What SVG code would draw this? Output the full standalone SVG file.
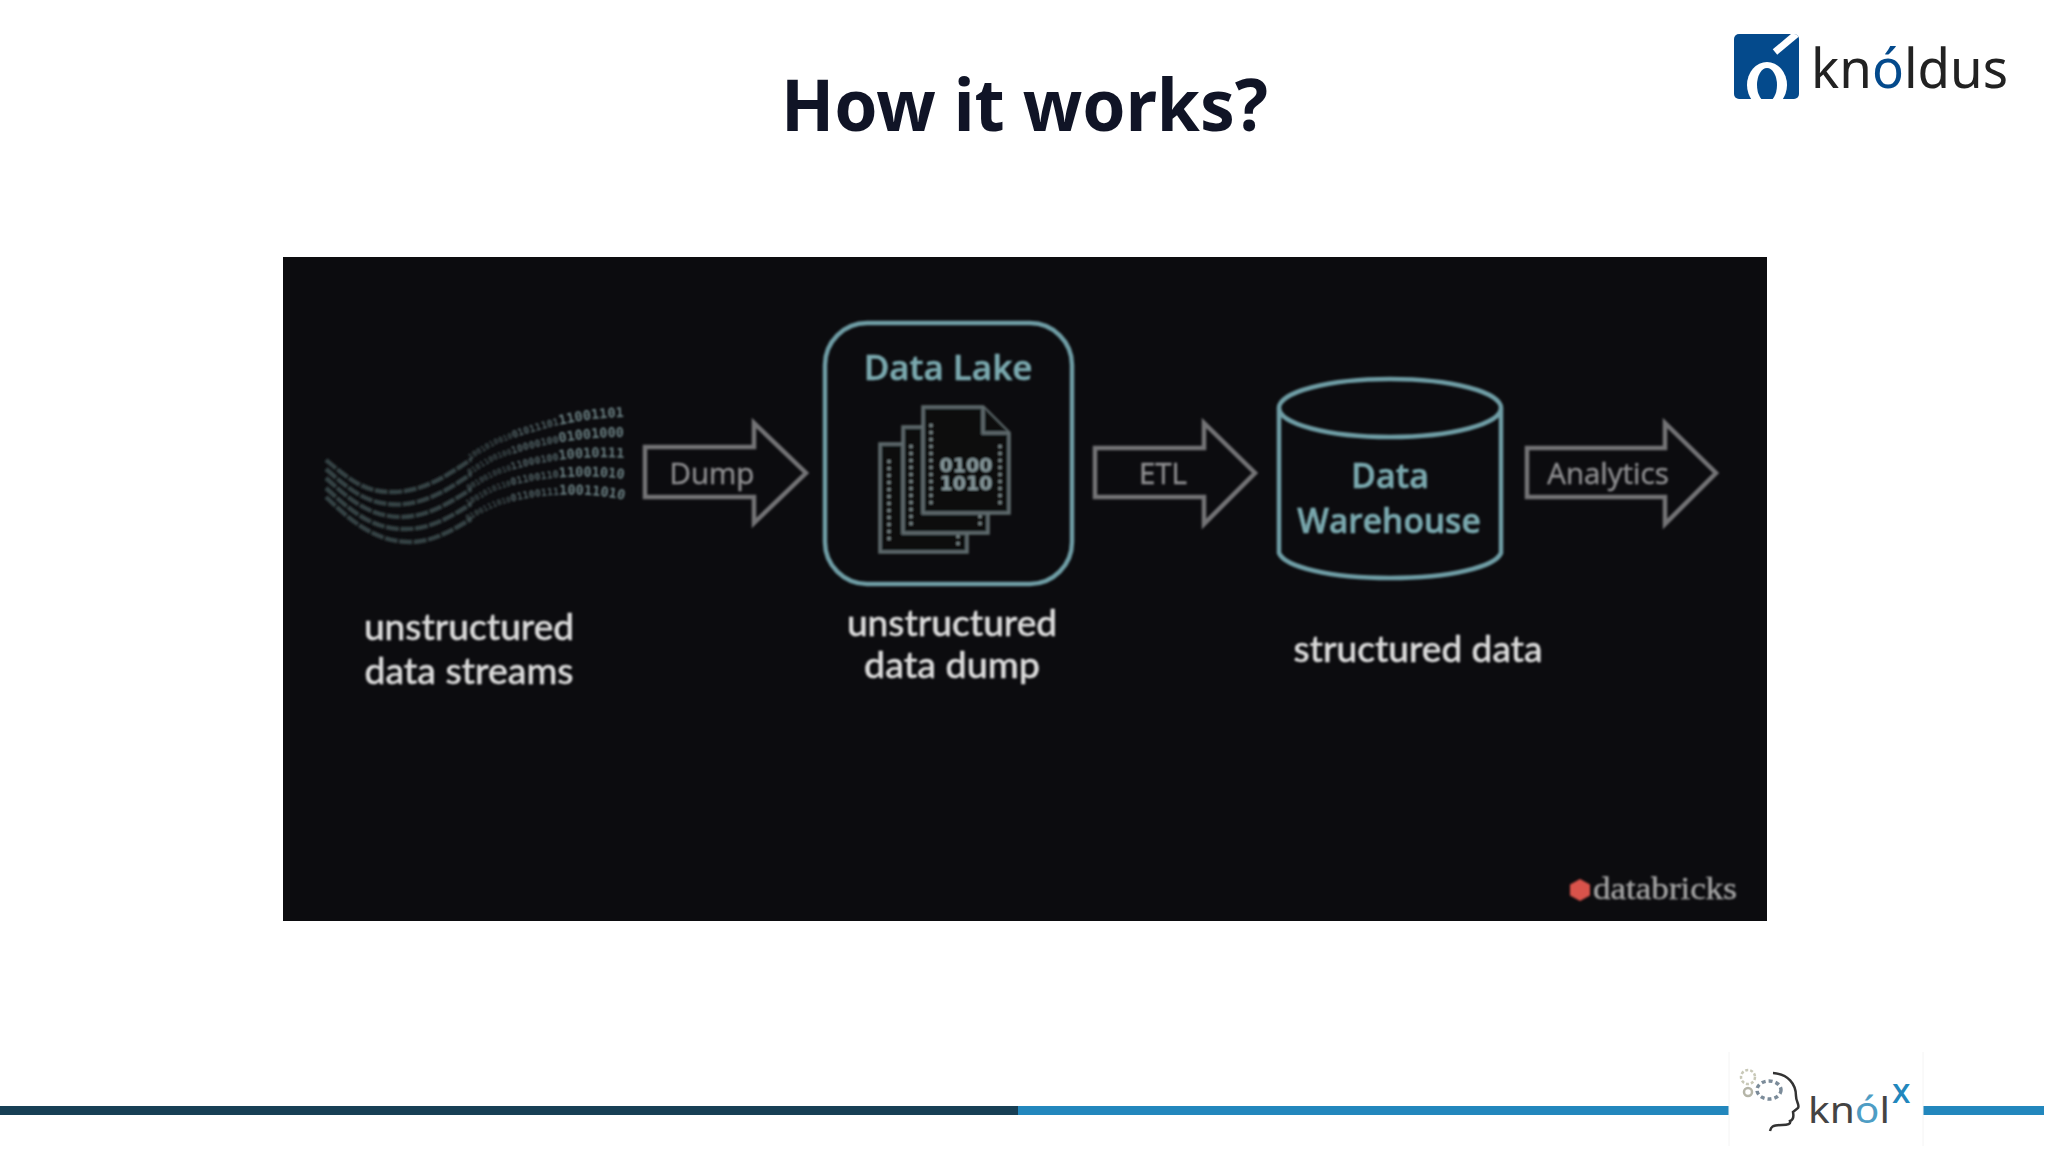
<svg xmlns="http://www.w3.org/2000/svg" xmlns:xlink="http://www.w3.org/1999/xlink" width="2048" height="1152" viewBox="0 0 2048 1152">
<style>
.cap{font-family:Lato,"Open Sans",sans-serif;font-size:37px;font-weight:500;fill:#dcdcdc;text-anchor:middle;stroke:#dcdcdc;stroke-width:.5px}
.arr{fill:none;stroke:#737376;stroke-width:4.5}
.alab{font-family:"Open Sans",sans-serif;font-size:29.500px;fill:#8e8e90;text-anchor:middle;stroke:#8e8e90;stroke-width:.5px}
.teal{fill:none;stroke:#6f9ea6;stroke-width:4.5}
.ttl{font-family:"Open Sans",sans-serif;font-weight:600;fill:#7aa9af;text-anchor:middle;stroke:#7aa9af;stroke-width:.6px}
.doc{fill:#0d0d10;stroke:#5f6b6d;stroke-width:3.5}
.dots{fill:none;stroke:#7d8a8c;stroke-width:3;stroke-dasharray:3 4}
.wave{fill:none;stroke:#364344;stroke-width:4.500;stroke-dasharray:13 1.500}
.bits{font-family:"DejaVu Sans Mono",monospace;font-weight:700;fill:#6b8083;text-anchor:end}
.t1{font-size:8px;fill:#414f51}
.t2{font-size:10px;fill:#536467}
.t3{font-size:13.500px}
</style>
<defs>
<filter id="soft" x="-5%" y="-5%" width="110%" height="110%"><feGaussianBlur stdDeviation="0.9"/></filter>
<clipPath id="leftPart"><rect x="320" y="440" width="152" height="120"/></clipPath>
<path id="w1" d="M326 460C350 480 365 493 395 492C440 490 470 455 500 443C540 428 580 418 624 417"/>
<path id="w2" d="M326 469C350 490 367 505 399 504.500C441 503 470 470 500 458C540 444 582 437 624 437"/>
<path id="w3" d="M326 478C350 500 370 517 402 517C442 516 470 485 500 474C540 460 585 455 624 458"/>
<path id="w4" d="M326 488C350 510 372 530 406 529C444 529 470 500 500 489C540 476 587 474 624 479"/>
<path id="w5" d="M326 497C350 520 375 542 410 542C445 542 470 515 500 505C540 492 590 492 624 500"/>
</defs>
<rect width="2048" height="1152" fill="#ffffff"/>
<text id="title" x="781" y="131" font-family="'Noto Sans','Open Sans',sans-serif" font-weight="700" font-size="72" fill="#101426" textLength="487" lengthAdjust="spacingAndGlyphs">How it works?</text>

<g id="logo-knoldus">
<rect x="1734" y="34" width="65" height="65" rx="5" fill="#044a8c"/>
<clipPath id="lc"><rect x="1734" y="34" width="65" height="65" rx="5"/></clipPath>
<g clip-path="url(#lc)">
<ellipse cx="1767" cy="85" rx="20" ry="23" fill="#ffffff"/>
<ellipse cx="1767" cy="85" rx="10" ry="17" fill="#044a8c"/>
<path d="M1775 52L1800 31" stroke="#ffffff" stroke-width="7" fill="none"/>
</g>
<text x="1811" y="88" font-family="'Noto Sans',sans-serif" font-size="55" fill="#222222" textLength="197" lengthAdjust="spacingAndGlyphs">kn<tspan fill="#044a8c">ó</tspan>ldus</text>
</g>

<rect id="panel" x="283" y="257" width="1484" height="664" fill="#0c0c0f"/>

<g filter="url(#soft)">
<g id="stream">
<g clip-path="url(#leftPart)">
<use xlink:href="#w1" class="wave"/>
<use xlink:href="#w2" class="wave"/>
<use xlink:href="#w3" class="wave"/>
<use xlink:href="#w4" class="wave"/>
<use xlink:href="#w5" class="wave"/>
</g>
<text class="bits"><textPath xlink:href="#w1" startOffset="100%"><tspan class="t1">1001010010</tspan><tspan class="t2">01011101</tspan><tspan class="t3">11001101</tspan></textPath></text>
<text class="bits"><textPath xlink:href="#w2" startOffset="100%"><tspan class="t1">0101100100</tspan><tspan class="t2">10000100</tspan><tspan class="t3">01001000</tspan></textPath></text>
<text class="bits"><textPath xlink:href="#w3" startOffset="100%"><tspan class="t1">0010010010</tspan><tspan class="t2">11000100</tspan><tspan class="t3">10010111</tspan></textPath></text>
<text class="bits"><textPath xlink:href="#w4" startOffset="100%"><tspan class="t1">1001010110</tspan><tspan class="t2">01100110</tspan><tspan class="t3">11001010</tspan></textPath></text>
<text class="bits"><textPath xlink:href="#w5" startOffset="100%"><tspan class="t1">0100111010</tspan><tspan class="t2">01100111</tspan><tspan class="t3">10011010</tspan></textPath></text>
</g>

<g id="connectors">
<path class="arr" d="M645 447H754V423L806 473L754 523V497H645Z"/>
<path class="arr" d="M1095 448H1204V423L1255 473L1204 524V497H1095Z"/>
<path class="arr" d="M1527 448H1665V423L1716 473L1665 524V497H1527Z"/>
<text class="alab" x="712" y="484">Dump</text>
<text class="alab" x="1163" y="484">ETL</text>
<text class="alab" x="1608" y="484">Analytics</text>
</g>

<g id="data-lake">
<rect class="teal" x="825" y="323" width="247" height="261" rx="42"/>
<text class="ttl" x="948" y="380" font-size="35">Data Lake</text>
<path class="doc" d="M880 444H967V552H880Z"/>
<path class="dots" d="M889 460V544M958 535V546"/>
<path class="doc" d="M903 427H988V533H903Z"/>
<path class="dots" d="M911 445V526M980 515V528"/>
<path class="doc" d="M923 407H983L1009 433V513H923Z"/>
<path class="doc" d="M983 407V433H1009"/>
<path class="dots" d="M931 424V508M1000 445V508"/>
<text x="966" y="472" font-family="'DejaVu Sans',sans-serif" font-size="19" font-weight="700" fill="#86989b" text-anchor="middle">0100</text>
<text x="966" y="490" font-family="'DejaVu Sans',sans-serif" font-size="19" font-weight="700" fill="#86989b" text-anchor="middle">1010</text>
</g>

<g id="data-warehouse">
<ellipse class="teal" cx="1390" cy="408" rx="111" ry="29"/>
<path class="teal" d="M1279 408V553C1285 567 1330 578 1390 578S1495 567 1501 553V408"/>
<text class="ttl" x="1390" y="488" font-size="34">Data</text>
<text class="ttl" x="1389" y="533" font-size="33.500">Warehouse</text>
</g>

<g id="labels">
<text class="cap" x="469" y="640">unstructured</text>
<text class="cap" x="469" y="684" textLength="209" lengthAdjust="spacingAndGlyphs">data streams</text>
<text class="cap" x="952" y="636">unstructured</text>
<text class="cap" x="952" y="678" textLength="176" lengthAdjust="spacingAndGlyphs">data dump</text>
<text class="cap" x="1418" y="662">structured data</text>
</g>

<g id="databricks">
<path d="M1580 879L1590 884.500V895.500L1580 901L1570 895.500V884.500Z" fill="#d9534c"/>
<text x="1593" y="899" font-family="'Liberation Serif',serif" font-size="32" fill="#a6a6a6" stroke="#a6a6a6" stroke-width=".4" textLength="144" lengthAdjust="spacingAndGlyphs">databricks</text>
</g>
</g>

<g id="footer">
<rect x="0" y="1106" width="1018" height="9" fill="#173f55"/>
<rect x="1018" y="1106" width="711" height="9" fill="#2287bd"/>
<rect x="1923" y="1106" width="121" height="9" fill="#2287bd"/>
</g>

<g id="logo-knolx">
<path d="M1729 1052V1146M1923 1052V1146" stroke="#f4f4f4" stroke-width="1" fill="none"/>
<circle cx="1748" cy="1077" r="7" fill="none" stroke="#c9c9b8" stroke-width="2.500" stroke-dasharray="3 2"/>
<circle cx="1748" cy="1092" r="4" fill="none" stroke="#b5b5a8" stroke-width="2.500"/>
<ellipse cx="1769" cy="1090" rx="12" ry="9" fill="none" stroke="#7b8b99" stroke-width="3.500" stroke-dasharray="4 3"/>
<path d="M1773 1073C1788 1074 1796 1084 1796 1096C1796 1102 1800 1105 1798 1108L1793 1112C1794 1117 1793 1120 1790 1121C1791 1124 1788 1125 1782 1125C1772 1125 1771 1127 1770 1131" fill="none" stroke="#333333" stroke-width="2.500"/>
<text x="1808" y="1123" font-family="'Noto Sans',sans-serif" font-size="36" fill="#444444" textLength="82" lengthAdjust="spacingAndGlyphs">kn<tspan fill="#4e9dc4">ó</tspan>l</text>
<text x="1892" y="1103" font-family="'Noto Sans',sans-serif" font-size="34" font-weight="500" fill="#2287bd">x</text>
</g>
</svg>
